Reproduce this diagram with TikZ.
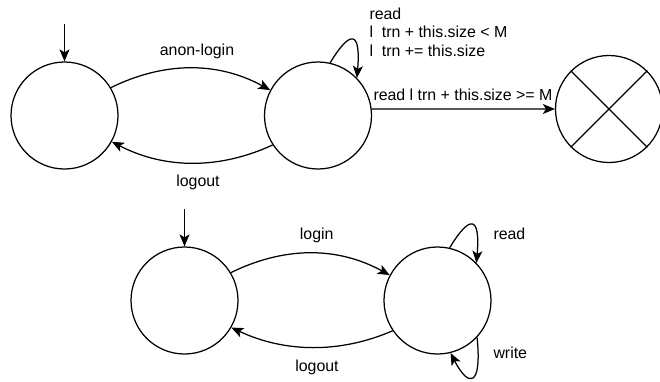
\documentclass[tikz,border=0pt]{standalone}
\usepackage{fontspec}
\setmainfont{Liberation Sans}
\usetikzlibrary{arrows.meta}
\tikzset{
  statenode/.style={circle, draw, line width=1.25pt, minimum size=107pt, inner sep=0pt},
  edge/.style={line width=1.25pt, -{Stealth[length=12pt, width=10pt, inset=3pt]}},
  lbl/.style={inner sep=0pt, font=\fontsize{15.9}{18.5}\selectfont},
}
\begin{document}
\begin{tikzpicture}[x=1pt, y=-1pt]
  \useasboundingbox (0,0) rectangle (660,381);

  % upper machine
  \node[statenode] (c1) at (64.5,115.5) {};
  \node[statenode] (c2) at (318,115.5) {};
  \node[statenode] (cx) at (609,109) {};
  \draw[line width=1.25pt] (cx.45) -- (cx.225) (cx.135) -- (cx.315);

  \coordinate (i1) at (64.5,24);
  \draw[edge] (i1) -- (c1.north);

  \draw[edge] (c1.31) .. controls +(53,-26) and +(-53,-29) .. (c2.152);
  \node[lbl, anchor=base] (anon) at (197,55) {anon-login};

  \draw[edge] (c2.213) .. controls +(-53,24.5) and +(53,27.5) .. (c1.331);
  \node[lbl, anchor=base] (out1) at (198,186) {logout};

  \draw[edge] (c2.77) .. controls +(20,-33) and +(4,-48) .. (c2.44);
  \node[lbl, anchor=base west] (rd1) at (369.3,19) {read};
  \node[lbl, anchor=base west] (rd2) at (369.3,37.3) {l\ \ trn + this.size < M};
  \node[lbl, anchor=base west] (rd3) at (369.3,56) {l\ \ trn += this.size};

  \draw[edge] (c2.7) -- (cx.west);
  \node[lbl, anchor=base west] (rdx) at (373.3,100.7) {read l trn + this.size >= M};

  % lower machine
  \node[statenode] (c3) at (184.5,300.5) {};
  \node[statenode] (c4) at (437.5,300.5) {};

  \coordinate (i3) at (184.5,209);
  \draw[edge] (i3) -- (c3.north);

  \draw[edge] (c3.31) .. controls +(53,-26) and +(-53,-29) .. (c4.152);
  \node[lbl, anchor=base] (login) at (316.7,239) {login};

  \draw[edge] (c4.214) .. controls +(-53,23) and +(53,25) .. (c3.330);
  \node[lbl, anchor=base] (out2) at (317,371.7) {logout};

  \draw[edge] (c4.77) .. controls +(20,-33) and +(4,-48) .. (c4.44);
  \node[lbl, anchor=base west] (rd4) at (493.3,239) {read};

  \draw[edge] (c4.317) .. controls +(5,50) and +(18,35) .. (c4.284);
  \node[lbl, anchor=base west] (wr4) at (493.3,358) {write};
\end{tikzpicture}
\end{document}
